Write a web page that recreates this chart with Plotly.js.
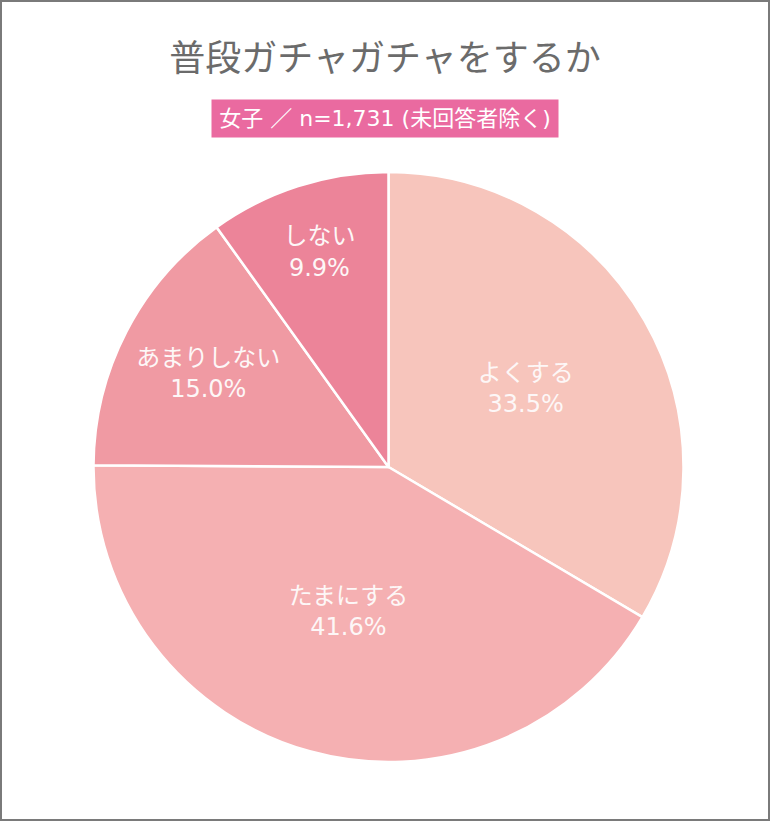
<!DOCTYPE html>
<html>
<head>
<meta charset="utf-8">
<script src="https://cdn.plot.ly/plotly-3.0.1.min.js"></script>
<style>
  html, body { margin: 0; padding: 0; background: #ffffff; }
  #wrap { position: relative; width: 770px; height: 821px; }
  #chart { position: absolute; left: 0; top: 0; width: 770px; height: 821px; }
  #frame { position: absolute; left: 0; top: 0; width: 770px; height: 821px; box-sizing: border-box; border: 2px solid #7a7a7a; pointer-events: none; }
</style>
</head>
<body>
<div id="wrap">
  <div id="chart"></div>
  <div id="frame"></div>
</div>
<script>
// ---- data ----
const chartTitle = "普段ガチャガチャをするか";
const subTitle = "女子 ／ n=1,731 (未回答者除く)";
const categories = ["よくする", "たまにする", "あまりしない", "しない"];
const shares = [33.5, 41.6, 15.0, 9.9];
const sliceColors = ["#f7c5bc", "#f5b0b2", "#f09aa3", "#ec8499"];

const W = 770, H = 821;
const cx = 388.5, cy = 467, R = 295;
const mixedFont = "DejaVu Sans, Noto Sans CJK JP, sans-serif";

const trace = {
  type: "pie",
  labels: categories,
  values: shares,
  sort: false,
  direction: "clockwise",
  rotation: 0,
  marker: { colors: sliceColors, line: { color: "#ffffff", width: 2.5 } },
  texttemplate: "%{label}<br>%{value:.1f}%",
  textposition: "inside",
  insidetextorientation: "horizontal",
  textfont: { family: mixedFont, size: 24, color: "#fdf7f7" },
  hoverinfo: "skip",
  domain: {
    x: [(cx - R) / W, (cx + R) / W],
    y: [(H - cy - R) / H, (H - cy + R) / H]
  },
  showlegend: false
};

const layout = {
  width: W,
  height: H,
  margin: { l: 0, r: 0, t: 0, b: 0 },
  paper_bgcolor: "#ffffff",
  showlegend: false,
  title: {
    text: chartTitle,
    x: 0.5, xanchor: "center",
    y: 1 - 58 / H, yanchor: "middle",
    xref: "paper", yref: "paper",
    font: { family: "Noto Sans CJK JP, sans-serif", size: 36, color: "#6b6b6b" }
  },
  annotations: [{
    text: subTitle,
    xref: "paper", yref: "paper",
    x: 385 / W, y: 1 - 118.5 / H,
    xanchor: "center", yanchor: "middle",
    showarrow: false,
    bgcolor: "#ea6aa0",
    width: 346, height: 37,
    borderpad: 0,
    font: { family: mixedFont, size: 22, color: "#ffffff" }
  }]
};

Plotly.newPlot("chart", [trace], layout, { displayModeBar: false, staticPlot: true });
</script>
</body>
</html>
